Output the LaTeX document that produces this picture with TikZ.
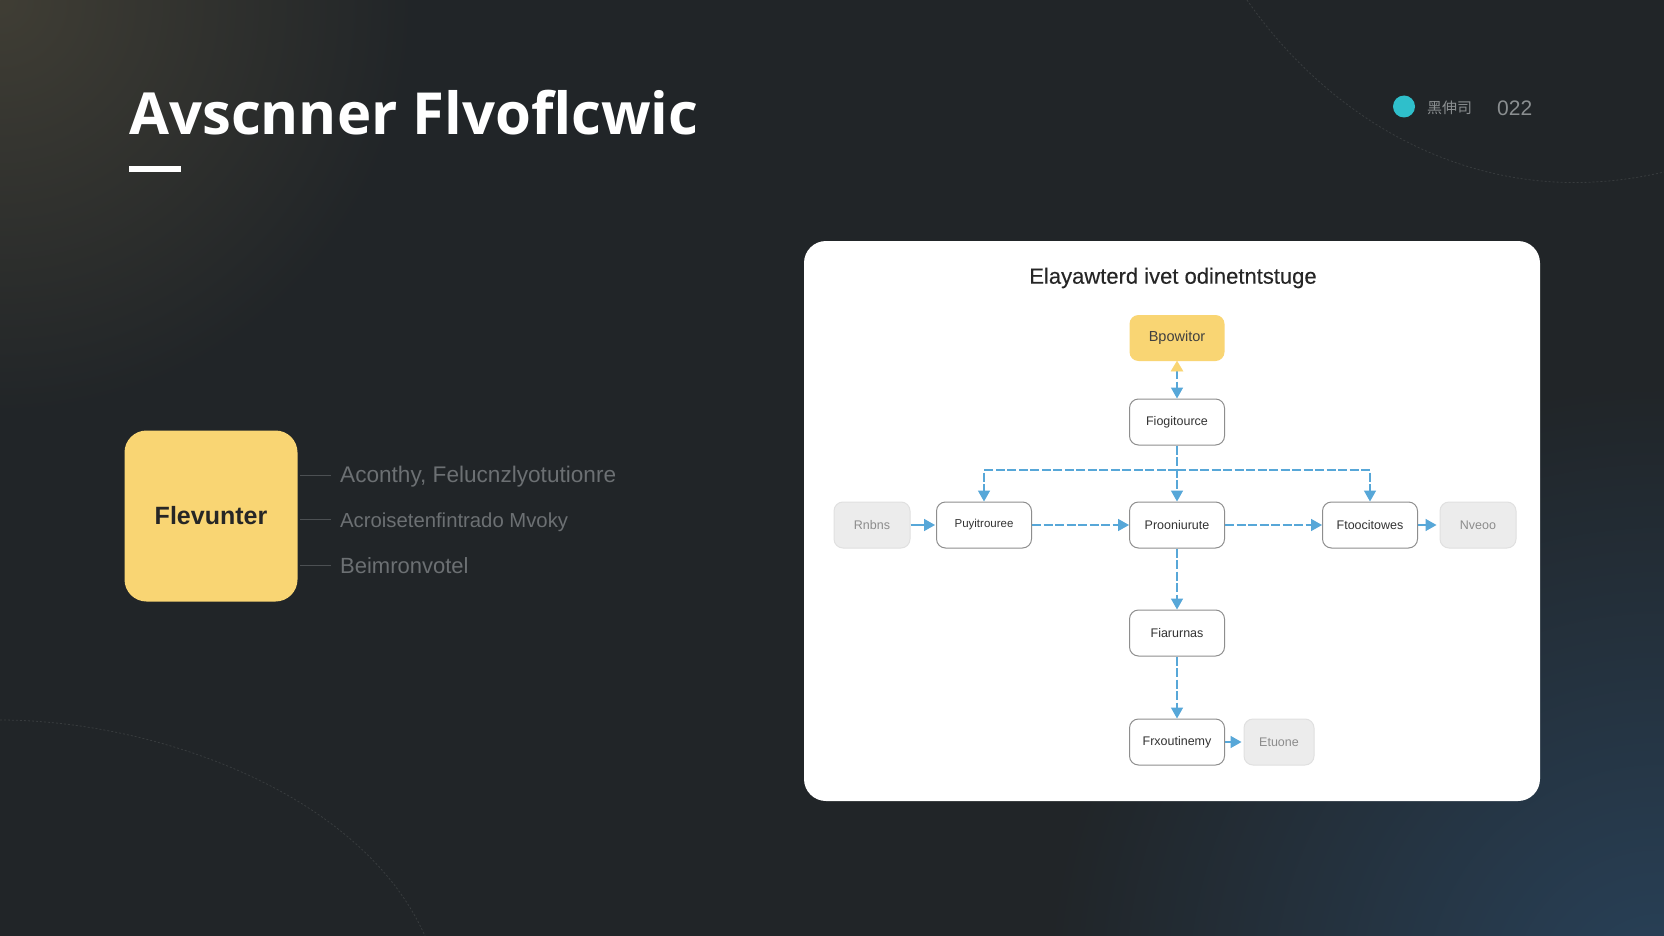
\documentclass[tikz,border=0pt]{standalone}
\usepackage{fontspec}
\usetikzlibrary{arrows.meta,fadings,positioning}
\setmainfont{Liberation Sans}
\newfontfamily\titlefont{Open Sans}
\newfontfamily\cardfont[FakeBold=0.25]{Liberation Sans}
\newfontfamily\cjkfont{Noto Sans CJK SC}
\definecolor{bgbase}{HTML}{212528}
\definecolor{warmglow}{HTML}{403E35}
\definecolor{coolglow}{HTML}{29425A}
\definecolor{goldfill}{HTML}{F9D573}
\definecolor{flowblue}{HTML}{57A7D8}
\definecolor{boxline}{HTML}{8E8E8E}
\definecolor{grayfill}{HTML}{ECECEC}
\definecolor{graytext}{HTML}{8C8C8C}
\definecolor{sidetext}{HTML}{6C7073}
\definecolor{tealdot}{HTML}{2FBFCB}
\definecolor{metatext}{HTML}{8A8E90}
\definecolor{dimline}{HTML}{4C5053}
\definecolor{arcline}{HTML}{383C3E}
\tikzfading[name=glowfade,inner color=transparent!0,outer color=transparent!100]
\tikzset{
  x=1pt,y=-1pt,
  boxbase/.style={rectangle,rounded corners=9pt,anchor=center,inner sep=0pt,font=\fontsize{12.5}{14}\selectfont},
  plainbox/.style={boxbase,draw=boxline,line width=1pt,fill=white,text=black!80,minimum width=95pt,minimum height=46pt},
  palebox/.style={boxbase,draw=black!12,line width=1pt,fill=grayfill,text=graytext,minimum height=46pt},
  goldbox/.style={boxbase,fill=goldfill,text=black!75,minimum width=95pt,minimum height=46pt},
  solidflow/.style={draw=flowblue,line width=1.6pt,-{Triangle[length=11pt,width=12pt,fill=flowblue]}},
  dashflow/.style={solidflow,dash pattern=on 9pt off 2.5pt},
  sidelabel/.style={anchor=west,inner sep=0pt,text=sidetext},
  sideline/.style={draw=dimline,line width=1pt},
  decoarc/.style={draw=arcline,line width=.8pt,dash pattern=on 2pt off 2pt},
}
\begin{document}
\begin{tikzpicture}
\useasboundingbox (0,0) rectangle (1664,936);
\fill[bgbase] (0,0) rectangle (1664,936);
\begin{scope}
\clip (0,0) rectangle (1664,936);
\fill[warmglow,path fading=glowfade] (-420,-420) rectangle (420,420);
\fill[coolglow,path fading=glowfade] (1040,380) rectangle (2280,1620);
\draw[decoarc] (1247,0) .. controls (1330,120) and (1480,215) .. (1664,172);
\draw[decoarc] (0,720) .. controls (150,720) and (360,790) .. (425,936);
\end{scope}

\node[anchor=base west,inner sep=0pt,text=white,font=\titlefont\bfseries\fontsize{58}{62}\selectfont] (title) at (129,135) {Avscnner Flvoflcwic};
\fill[white] (129,166) rectangle (181,172.5);

\node[circle,fill=tealdot,minimum size=22pt,inner sep=0pt] (dot) at (1404,106.5) {};
\node[anchor=west,inner sep=0pt,text=metatext,font=\cjkfont\fontsize{15}{16}\selectfont] (metaa) at (1427,108) {黑伸司};
\node[anchor=west,inner sep=0pt,text=metatext,font=\fontsize{21}{24}\selectfont] (metab) at (1497,108) {022};

\node[rectangle,rounded corners=22pt,fill=goldfill,minimum width=173pt,minimum height=171pt,inner sep=0pt,text=black!85,font=\bfseries\fontsize{25}{28}\selectfont] (hub) at (211,516) {Flevunter};
\coordinate (la) at (331,475);
\coordinate (lb) at (331,519.5);
\coordinate (lc) at (331,565);
\coordinate (lstart) at (300,516);
\draw[sideline] (lstart |- la) -- (la);
\draw[sideline] (lstart |- lb) -- (lb);
\draw[sideline] (lstart |- lc) -- (lc);
\node[sidelabel,font=\fontsize{22.6}{26}\selectfont] (ta) at (340,477) {Aconthy, Felucnzlyotutionre};
\node[sidelabel,font=\fontsize{20.3}{24}\selectfont] (tb) at (340,522) {Acroisetenfintrado Mvoky};
\node[sidelabel,font=\fontsize{22}{26}\selectfont] (tc) at (340,566) {Beimronvotel};

\fill[white,rounded corners=22pt] (804,241) rectangle (1540,801);
\node[inner sep=0pt,text=black!85,font=\cardfont\fontsize{22}{26}\selectfont] (cardtitle) at (1173,278) {Elayawterd ivet odinetntstuge};

\node[goldbox,font=\fontsize{14.5}{16}\selectfont] (n1) at (1177,338) {\raisebox{-1pt}{Bpowitor}};
\node[plainbox] (n2) at (1177,422) {\raisebox{-1pt}{Fiogitource}};
\node[plainbox,font=\fontsize{11.5}{14}\selectfont] (n3) at (984,525) {\raisebox{-1pt}{Puyitrouree}};
\node[plainbox] (n4) at (1177,525) {\raisebox{-1pt}{Prooniurute}};
\node[plainbox] (n5) at (1370,525) {\raisebox{-1pt}{Ftoocitowes}};
\node[palebox,minimum width=76pt] (g1) at (872,525) {Rnbns};
\node[palebox,minimum width=76pt] (g2) at (1478,525) {Nveoo};
\node[plainbox] (n6) at (1177,633) {Fiarurnas};
\node[plainbox] (n7) at (1177,742) {\raisebox{-1pt}{Frxoutinemy}};
\node[palebox,minimum width=70pt] (g3) at (1279,742) {Etuone};

\coordinate (hbar) at (1177,470);
\draw[dashflow] (n1.south) ++(0,9) coordinate (upbase) -- (n2.north);
\draw[draw=goldfill,fill=goldfill] (n1.south) -- ++(-6,10) -- ++(12,0) -- cycle;
\draw[dashflow] (n2.south) -- (n4.north);
\draw[dashflow] (hbar) -| (n3.north);
\draw[dashflow] (hbar) -| (n5.north);
\draw[solidflow,shorten >=1pt] (g1.east) -- (n3.west);
\draw[dashflow] (n3.east) -- (n4.west);
\draw[dashflow] (n4.east) -- (n5.west);
\draw[solidflow,shorten >=3pt] (n5.east) -- (g2.west);
\draw[dashflow] (n4.south) -- (n6.north);
\draw[dashflow] (n6.south) -- (n7.north);
\draw[solidflow,shorten >=2pt] (n7.east) -- (g3.west);
\end{tikzpicture}
\end{document}
